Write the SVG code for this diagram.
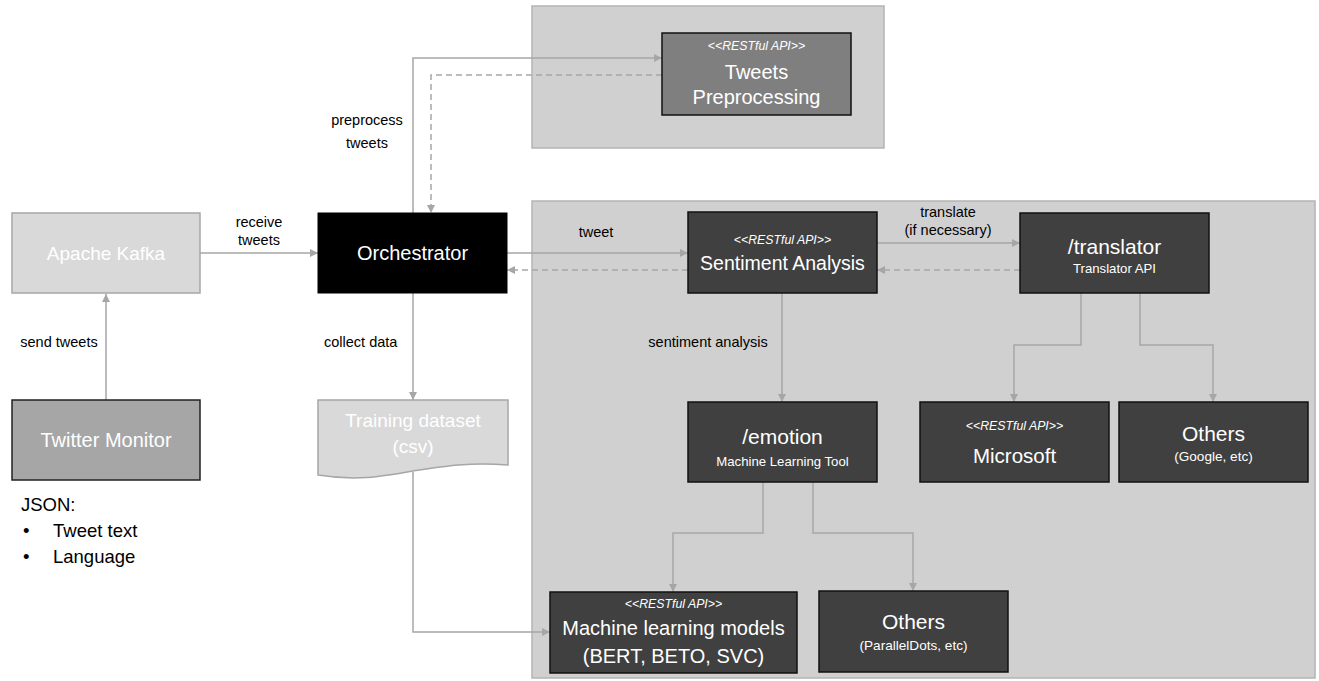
<svg xmlns="http://www.w3.org/2000/svg" width="1319" height="681" viewBox="0 0 1319 681">
<defs>
<marker id="ah" viewBox="0 0 10 10" refX="10" refY="5" markerWidth="8" markerHeight="8" markerUnits="userSpaceOnUse" orient="auto">
<path d="M0,0 L10,5 L0,10 Z" fill="#a6a6a6"/>
</marker>
<style>
text{font-family:"Liberation Sans",Arial,sans-serif;text-anchor:middle}
.cont{fill:#d0d0d0;stroke:#b4b4b4;stroke-width:1.5}
.dark{fill:#404040;stroke:#111;stroke-width:1.5}
.w{fill:#fff}
.st{font-style:italic;font-size:12.3px}
.big{font-size:20px}
.sub{font-size:13.2px}
.lbl{font-size:14.5px;fill:#000}
.note{font-size:18.5px;fill:#000;text-anchor:start}
.ln{fill:none;stroke:#a6a6a6;stroke-width:1.5}
.dash{stroke-dasharray:6,4}
</style>
</defs>
<rect width="1319" height="681" fill="#fff"/>
<g id="containers">
<rect class="cont" x="532" y="6" width="352" height="142"/>
<rect class="cont" x="532" y="201" width="783" height="477"/>
</g>
<g id="connectors">
<path class="ln" d="M106,400 V294" marker-end="url(#ah)"/>
<path class="ln" d="M200,253 H318" marker-end="url(#ah)"/>
<path class="ln" d="M413,213 V58 H662" marker-end="url(#ah)"/>
<path class="ln dash" d="M662,75 H431 V213" marker-end="url(#ah)"/>
<path class="ln" d="M507,253 H688" marker-end="url(#ah)"/>
<path class="ln dash" d="M688,270 H507" marker-end="url(#ah)"/>
<path class="ln" d="M877,243 H1020" marker-end="url(#ah)"/>
<path class="ln dash" d="M1020,270 H877" marker-end="url(#ah)"/>
<path class="ln" d="M413,293 V400" marker-end="url(#ah)"/>
<path class="ln" d="M413,472 V632 H550" marker-end="url(#ah)"/>
<path class="ln" d="M782,293 V402" marker-end="url(#ah)"/>
<path class="ln" d="M1081,293 V345 H1014 V402" marker-end="url(#ah)"/>
<path class="ln" d="M1140,293 V345 H1213 V402" marker-end="url(#ah)"/>
<path class="ln" d="M763,482 V533 H673 V592" marker-end="url(#ah)"/>
<path class="ln" d="M813,482 V533 H913 V591" marker-end="url(#ah)"/>
</g>
<g id="labels">
<text class="lbl" x="367" y="125">preprocess</text>
<text class="lbl" x="367" y="148">tweets</text>
<text class="lbl" x="259" y="227">receive</text>
<text class="lbl" x="259" y="245">tweets</text>
<text class="lbl" x="59" y="347">send tweets</text>
<text class="lbl" x="324" y="347" style="text-anchor:start">collect data</text>
<text class="lbl" x="596" y="237">tweet</text>
<text class="lbl" x="948" y="217">translate</text>
<text class="lbl" x="948" y="235">(if necessary)</text>
<text class="lbl" x="708" y="347">sentiment analysis</text>
</g>
<g id="kafka">
<rect x="12" y="213" width="188" height="80" fill="#d9d9d9" stroke="#a6a6a6" stroke-width="1.5"/>
<text class="w" x="106" y="260" font-size="19px">Apache Kafka</text>
</g>
<g id="orchestrator">
<rect x="318" y="213" width="189" height="80" fill="#000" stroke="#000"/>
<text class="w big" x="412.5" y="260">Orchestrator</text>
</g>
<g id="twitter-monitor">
<rect x="12" y="400" width="188" height="80" fill="#a6a6a6" stroke="#222" stroke-width="1.5"/>
<text class="w" x="106" y="447" font-size="20px">Twitter Monitor</text>
</g>
<g id="json-note">
<text class="note" x="21" y="511">JSON:</text>
<text class="note" x="23" y="537">•</text>
<text class="note" x="53" y="537">Tweet text</text>
<text class="note" x="23" y="563">•</text>
<text class="note" x="53" y="563">Language</text>
</g>
<g id="training-dataset">
<path d="M318,400 H508 V465 C470,462 445,466 413,471 C380,477 355,481 318,475 Z" fill="#d9d9d9" stroke="#a6a6a6" stroke-width="1.5"/>
<text class="w" x="413" y="427" font-size="19px">Training dataset</text>
<text class="w" x="413" y="453" font-size="19px">(csv)</text>
</g>
<g id="tweets-preprocessing">
<rect x="662" y="33" width="189" height="82" fill="#7f7f7f" stroke="#111" stroke-width="1.5"/>
<text class="w st" x="756.5" y="50">&lt;&lt;RESTful API&gt;&gt;</text>
<text class="w big" x="756.5" y="79">Tweets</text>
<text class="w big" x="756.5" y="104">Preprocessing</text>
</g>
<g id="sentiment-analysis">
<rect class="dark" x="688" y="212" width="189" height="81"/>
<text class="w st" x="782.5" y="244">&lt;&lt;RESTful API&gt;&gt;</text>
<text class="w" x="782.5" y="270" font-size="19.5px">Sentiment Analysis</text>
</g>
<g id="translator">
<rect class="dark" x="1020" y="213" width="189" height="80"/>
<text class="w" x="1114.5" y="254" font-size="21px">/translator</text>
<text class="w sub" x="1114.5" y="273">Translator API</text>
</g>
<g id="emotion">
<rect class="dark" x="688" y="402" width="189" height="80"/>
<text class="w" x="782.5" y="444" font-size="21px">/emotion</text>
<text class="w sub" x="782.5" y="466">Machine Learning Tool</text>
</g>
<g id="microsoft">
<rect class="dark" x="920" y="402" width="189" height="80"/>
<text class="w st" x="1014.5" y="430">&lt;&lt;RESTful API&gt;&gt;</text>
<text class="w" x="1014.5" y="463" font-size="20.5px">Microsoft</text>
</g>
<g id="others-translator">
<rect class="dark" x="1119" y="402" width="189" height="80"/>
<text class="w" x="1213.5" y="441" font-size="21px">Others</text>
<text class="w" x="1213.5" y="461" font-size="13.6px">(Google, etc)</text>
</g>
<g id="ml-models">
<rect class="dark" x="550" y="592" width="247" height="81"/>
<text class="w st" x="673.5" y="608">&lt;&lt;RESTful API&gt;&gt;</text>
<text class="w big" x="673.5" y="635">Machine learning models</text>
<text class="w big" x="673.5" y="663">(BERT, BETO, SVC)</text>
</g>
<g id="others-emotion">
<rect class="dark" x="819" y="591" width="189" height="81"/>
<text class="w" x="913.5" y="629" font-size="21px">Others</text>
<text class="w" x="913.5" y="650" font-size="13.6px">(ParallelDots, etc)</text>
</g>
</svg>
